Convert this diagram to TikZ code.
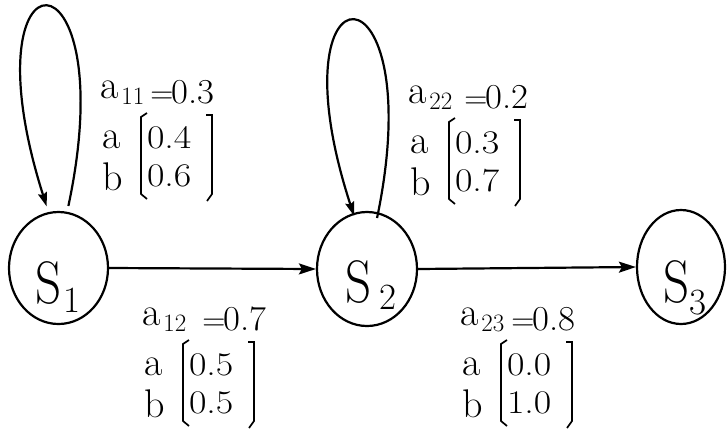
\documentclass[tikz,border=0pt]{standalone}
\usetikzlibrary{shapes.geometric,arrows.meta}
\newcommand\fa{\rmfamily\fontsize{40}{40}\selectfont}
\newcommand\fd{\rmfamily\fontsize{33}{33}\selectfont}
\newcommand\fh{\rmfamily\fontsize{35}{35}\selectfont}
\newcommand\fe{\rmfamily\fontsize{32}{32}\selectfont}
\newcommand\fs{\rmfamily\fontsize{25}{25}\selectfont}
\newcommand\fS{\rmfamily\fontsize{60}{60}\selectfont}
\newcommand\fD{\rmfamily\fontsize{37}{37}\selectfont}
\newcommand\nm[1]{\scalebox{1.15}[1]{\fd #1}}
\newcommand\grp[8]{%
  \node[lbl] (#1h) at (#2,#3) {\fa a\kern3pt\raisebox{-6pt}{\fs #4}\hspace{#8}\raisebox{-5pt}{\fe =}\kern-2pt\raisebox{-5pt}{\scalebox{1.05}[1]{\fh #5}}};
  \node[lbl] (#1a) at (#2+2,#3+50) {\fa a};
  \node[lbl] (#1b) at (#2+2,#3+92) {\fa b};
  \node[lbl] (#1u) at (#2+47,#3+50) {\nm{#6}};
  \node[lbl] (#1v) at (#2+47,#3+88) {\nm{#7}};
  \draw[brk] (#2+47,#3+15) -- (#2+41,#3+19) -- (#2+41,#3+96) -- (#2+47,#3+101);
  \draw[brk] (#2+106,#3+17) -- (#2+112,#3+17) -- (#2+112,#3+96) -- (#2+107,#3+103);
}
\begin{document}
\begin{tikzpicture}[x=1pt,y=-1pt,
  state/.style={ellipse,draw,line width=2.2pt,inner sep=0pt},
  arr/.style={line width=2.2pt,-{Stealth[length=17pt,width=11pt,inset=3pt]}},
  selfloop/.style={line width=2.2pt,-{Stealth[length=14pt,width=9pt,inset=2pt]}},
  lbl/.style={anchor=base west,inner sep=0pt,outer sep=0pt},
  brk/.style={line width=1.7pt}]
\useasboundingbox (0,0) rectangle (727,432);
\node[state,minimum width=99pt,minimum height=112pt] (s1) at (58.5,268) {};
\node[state,minimum width=100pt,minimum height=114pt] (s2) at (367,269) {};
\node[state,minimum width=88pt,minimum height=114pt] (s3) at (681,267) {};
\node[lbl] (s1lab) at (35,303) {\scalebox{0.85}[1]{\fS S}\kern2pt\raisebox{-9pt}{\fD 1}};
\node[lbl] (s2lab) at (345,302) {\scalebox{0.85}[1]{\fS S}\kern8pt\raisebox{-7pt}{\fD 2}};
\node[lbl] (s3lab) at (663,302) {\scalebox{0.85}[1]{\fS S}\kern0pt\raisebox{-12pt}{\fD 3}};
\draw[arr] (s1.east) -- (s2.west);
\draw[arr] (s2.east) -- (s3.west);
\draw[selfloop] ([yshift=6pt]s1.80) .. controls (125,-60) and (-38,-60) .. ([yshift=6pt]s1.102);
\draw[selfloop] ([yshift=-6pt]s2.80) .. controls (432,-45) and (269,-45) .. ([yshift=-3pt]s2.103);
\grp{g11}{100}{98}{11}{0.3}{0.4}{0.6}{6pt}
\grp{g22}{408}{103}{22}{0.2}{0.3}{0.7}{12pt}
\grp{g12}{142}{325}{12}{0.7}{0.5}{0.5}{16pt}
\grp{g23}{460}{325}{23}{0.8}{0.0}{1.0}{7pt}
\end{tikzpicture}
\end{document}
